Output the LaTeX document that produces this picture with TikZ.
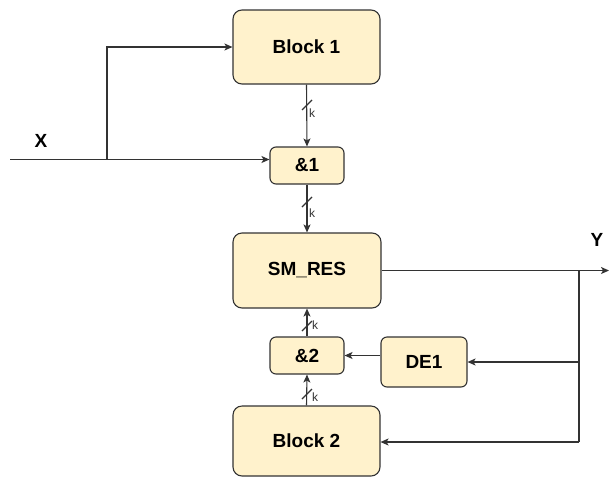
\documentclass[tikz,border=0pt]{standalone}
\usepackage{fontspec}
\setmainfont{Liberation Sans}
\usetikzlibrary{arrows.meta}
\definecolor{boxfill}{HTML}{FFF2CC}
\definecolor{boxline}{HTML}{333333}
\definecolor{wire}{HTML}{333333}
\begin{document}
\begin{tikzpicture}[x=1pt,y=-1pt,
  blk/.style={draw=boxline,fill=boxfill,line width=1.1pt,rounded corners=9pt,
    font=\fontsize{19}{21}\selectfont\bfseries,inner sep=0pt},
  small/.style={draw=boxline,fill=boxfill,line width=1.1pt,rounded corners=6pt,
    font=\fontsize{19}{21}\selectfont\bfseries,inner sep=0pt},
  wireline/.style={draw=wire,line width=1.1pt},
  arr/.style={wireline,-{Stealth[length=8pt,width=7pt,inset=2pt]}},
  lbl/.style={font=\fontsize{19}{21}\selectfont\bfseries,inner sep=0pt},
  klbl/.style={font=\fontsize{12}{13}\selectfont,inner sep=0pt,text=black!80}]
\useasboundingbox (0,0) rectangle (609,477);
% blocks
\node[blk,minimum width=147pt,minimum height=74pt] (b1) at (306.5,47) {Block 1};
\node[small,minimum width=74pt,minimum height=37pt] (a1) at (307,165.5) {\&1};
\node[blk,minimum width=148pt,minimum height=75pt] (sm) at (307,270.5) {SM\_RES};
\node[small,minimum width=74pt,minimum height=37pt] (a2) at (307,355.5) {\&2};
\node[small,minimum width=86pt,minimum height=50pt] (de) at (424,362) {DE1};
\node[blk,minimum width=147pt,minimum height=70pt] (b2) at (306.5,441) {Block 2};
% labels
\node[lbl] (xl) at (41,141) {X};
\node[lbl] (yl) at (597,240) {Y};
% coordinates
\coordinate (xs) at (10,159.5);
\coordinate (xj) at (107,159.5);
\coordinate (yj) at (579,270.5);
\coordinate (ye) at (609,270.5);
\coordinate (yb) at (579,442);
% X input
\draw[arr] (xs) -- (xs -| a1.west);
\draw[arr] (xj) |- (b1.west);
% vertical buses with k
\draw[arr] (b1.south) -- (a1.north);
\draw[wireline] (302,110) -- (312,100);
\node[klbl,anchor=west] (k1) at (309,113) {k};
\draw[arr] (a1.south) -- (sm.north);
\draw[wireline] (302,207) -- (312,197);
\node[klbl,anchor=west] (k2) at (309,213) {k};
\draw[arr] (a2.north) -- (sm.south);
\draw[wireline] (302,331) -- (312,321);
\node[klbl,anchor=west] (k3) at (312,325) {k};
\draw[arr] (b2.north) -- (a2.south);
\draw[wireline] (302,399) -- (312,389);
\node[klbl,anchor=west] (k4) at (312,397) {k};
% output and feedback
\draw[arr] (sm.east) -- (ye);
\draw[wireline] (yj) -- (yb);
\draw[arr] (yb) -- (yb -| b2.east);
\draw[arr] (yj |- de.east) -- (de.east);
\draw[arr] (de.west |- a2.east) -- (a2.east);
\end{tikzpicture}
\end{document}
